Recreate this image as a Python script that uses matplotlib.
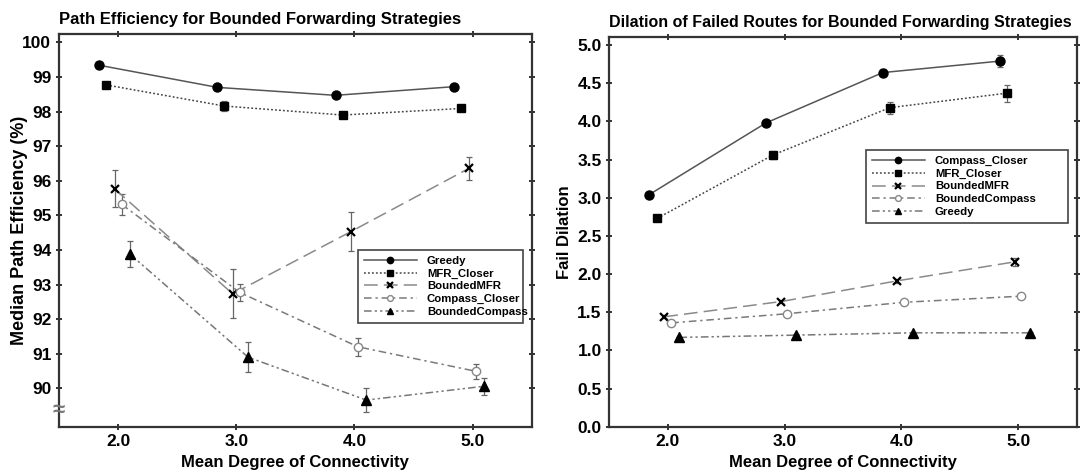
import matplotlib
matplotlib.use("Agg")
import matplotlib.pyplot as plt

plt.rcParams["font.family"] = ["Liberation Sans", "DejaVu Sans"]
plt.rcParams["font.weight"] = "bold"

# ---- path efficiency (left) ----
pe_greedy_x = [1.84, 2.84, 3.84, 4.84]
pe_greedy_y = [99.34, 98.70, 98.47, 98.72]
pe_greedy_err = [0.06, 0.06, 0.06, 0.05]

pe_mfr_closer_x = [1.90, 2.90, 3.90, 4.90]
pe_mfr_closer_y = [98.77, 98.16, 97.90, 98.09]
pe_mfr_closer_err = [0.06, 0.15, 0.08, 0.06]

pe_bounded_mfr_x = [1.97, 2.97, 3.97, 4.97]
pe_bounded_mfr_y = [95.77, 92.73, 94.53, 96.36]
pe_bounded_mfr_err = [0.54, 0.71, 0.57, 0.33]

pe_compass_closer_x = [2.03, 3.03, 4.03, 5.03]
pe_compass_closer_y = [95.32, 92.77, 91.20, 90.49]
pe_compass_closer_err = [0.31, 0.25, 0.26, 0.21]

pe_bounded_compass_x = [2.10, 3.10, 4.10, 5.10]
pe_bounded_compass_y = [93.88, 90.90, 89.66, 90.06]
pe_bounded_compass_err = [0.38, 0.43, 0.35, 0.25]

# ---- fail dilation (right) ----
fd_compass_closer_x = [1.84, 2.84, 3.84, 4.84]
fd_compass_closer_y = [3.04, 3.98, 4.64, 4.79]
fd_compass_closer_err = [0.02, 0.03, 0.05, 0.08]

fd_mfr_closer_x = [1.91, 2.90, 3.90, 4.90]
fd_mfr_closer_y = [2.73, 3.56, 4.18, 4.37]
fd_mfr_closer_err = [0.02, 0.05, 0.08, 0.11]

fd_bounded_mfr_x = [1.97, 2.97, 3.96, 4.97]
fd_bounded_mfr_y = [1.44, 1.64, 1.91, 2.16]
fd_bounded_mfr_err = [0.02, 0.02, 0.03, 0.05]

fd_bounded_compass_x = [2.03, 3.02, 4.02, 5.02]
fd_bounded_compass_y = [1.36, 1.48, 1.63, 1.71]
fd_bounded_compass_err = [0.02, 0.02, 0.02, 0.02]

fd_greedy_x = [2.10, 3.10, 4.10, 5.10]
fd_greedy_y = [1.17, 1.20, 1.23, 1.23]
fd_greedy_err = [0.01, 0.01, 0.01, 0.01]

x_ticks = [2.0, 3.0, 4.0, 5.0]
x_tick_labels = ["2.0", "3.0", "4.0", "5.0"]
pe_ticks = list(range(90, 101))
fd_ticks = [0.0, 0.5, 1.0, 1.5, 2.0, 2.5, 3.0, 3.5, 4.0, 4.5, 5.0]

# line/marker styles for each strategy
STYLES = {
    "solid": dict(color="#555555", dashes=(), marker="o", ms=6.5,
                  mfc="black", mec="black"),
    "dotted": dict(color="#444444", dashes=(1.2, 1.4), marker="s", ms=6,
                   mfc="black", mec="black"),
    "longdash": dict(color="#8a8a8a", dashes=(9, 4), marker="x", ms=6,
                     mfc="black", mec="black", mew=1.6),
    "dashdot": dict(color="#7a7a7a", dashes=(5, 2.5, 1.5, 2.5), marker="o",
                    ms=6, mfc="white", mec="#888888", mew=1.0),
    "dashdotdot": dict(color="#777777", dashes=(5, 2, 1.5, 2, 1.5, 2),
                       marker="^", ms=7, mfc="black", mec="black"),
}


def draw_series(ax, x, y, err, style, label):
    st = dict(STYLES[style])
    dashes = st.pop("dashes")
    ax.errorbar(x, y, yerr=err, fmt="none", ecolor="#666666",
                elinewidth=0.9, capsize=2.5, capthick=0.9, zorder=2)
    line, = ax.plot(x, y, label=label, lw=1.1, zorder=3, **st)
    if dashes:
        line.set_dashes(dashes)
    return line


def style_axes(ax):
    for sp in ax.spines.values():
        sp.set_linewidth(1.6)
        sp.set_color("#333333")
    ax.tick_params(direction="inout", length=5, width=1.3, color="#222222",
                   top=True, right=True, labelsize=12.5, pad=3)
    for lab in ax.get_xticklabels() + ax.get_yticklabels():
        lab.set_fontweight("bold")


def add_legend(ax, bbox):
    leg = ax.legend(loc="upper left", bbox_to_anchor=bbox, mode="expand",
                    borderaxespad=0, prop=dict(weight="bold", size=8.2),
                    handlelength=4.6, labelspacing=0.22, borderpad=0.55,
                    handletextpad=0.9, markerscale=0.7, fancybox=False,
                    framealpha=1, edgecolor="#444444")
    leg.get_frame().set_linewidth(1.2)
    return leg


fig = plt.figure(figsize=(10.8, 4.73), dpi=100)
ax1 = fig.add_axes([0.0546, 0.0979, 0.4377, 0.830])
ax2 = fig.add_axes([0.5642, 0.0979, 0.4328, 0.8245])

# left panel
draw_series(ax1, pe_greedy_x, pe_greedy_y, pe_greedy_err, "solid", "Greedy")
draw_series(ax1, pe_mfr_closer_x, pe_mfr_closer_y, pe_mfr_closer_err, "dotted", "MFR_Closer")
draw_series(ax1, pe_bounded_mfr_x, pe_bounded_mfr_y, pe_bounded_mfr_err, "longdash", "BoundedMFR")
draw_series(ax1, pe_compass_closer_x, pe_compass_closer_y, pe_compass_closer_err, "dashdot", "Compass_Closer")
draw_series(ax1, pe_bounded_compass_x, pe_bounded_compass_y, pe_bounded_compass_err, "dashdotdot", "BoundedCompass")

ax1.set_xlim(1.5, 5.5)
ax1.set_ylim(88.89, 100.24)
ax1.set_xticks(x_ticks)
ax1.set_xticklabels(x_tick_labels)
ax1.set_yticks(pe_ticks)
style_axes(ax1)
ax1.set_title("Path Efficiency for Bounded Forwarding Strategies", loc="left",
              fontsize=12, fontweight="bold", pad=7)
ax1.set_xlabel("Mean Degree of Connectivity", fontsize=12, fontweight="bold", labelpad=4)
ax1.set_ylabel("Median Path Efficiency (%)", fontsize=13, fontweight="bold", labelpad=-4)
# axis break mark below 90
ax1.text(0.0, 0.0425, "\u2248", transform=ax1.transAxes, ha="center", va="center",
         fontsize=16, color="#777777", zorder=5)
add_legend(ax1, (0.6325, 0.259, 0.349, 0.191))

# right panel
draw_series(ax2, fd_compass_closer_x, fd_compass_closer_y, fd_compass_closer_err, "solid", "Compass_Closer")
draw_series(ax2, fd_mfr_closer_x, fd_mfr_closer_y, fd_mfr_closer_err, "dotted", "MFR_Closer")
draw_series(ax2, fd_bounded_mfr_x, fd_bounded_mfr_y, fd_bounded_mfr_err, "longdash", "BoundedMFR")
draw_series(ax2, fd_bounded_compass_x, fd_bounded_compass_y, fd_bounded_compass_err, "dashdot", "BoundedCompass")
draw_series(ax2, fd_greedy_x, fd_greedy_y, fd_greedy_err, "dashdotdot", "Greedy")

ax2.set_xlim(1.5, 5.5)
ax2.set_ylim(0.0, 5.11)
ax2.set_xticks(x_ticks)
ax2.set_xticklabels(x_tick_labels)
ax2.set_yticks(fd_ticks)
ax2.set_yticklabels([f"{v:.1f}" for v in fd_ticks])
style_axes(ax2)
ax2.set_title("Dilation of Failed Routes for Bounded Forwarding Strategies", loc="left",
              fontsize=11.5, fontweight="bold", pad=7)
ax2.set_xlabel("Mean Degree of Connectivity", fontsize=12, fontweight="bold", labelpad=4)
ax2.set_ylabel("Fail Dilation", fontsize=12, fontweight="bold", labelpad=4)
add_legend(ax2, (0.549, 0.517, 0.432, 0.1925))

fig.savefig("out.png", dpi=100)
